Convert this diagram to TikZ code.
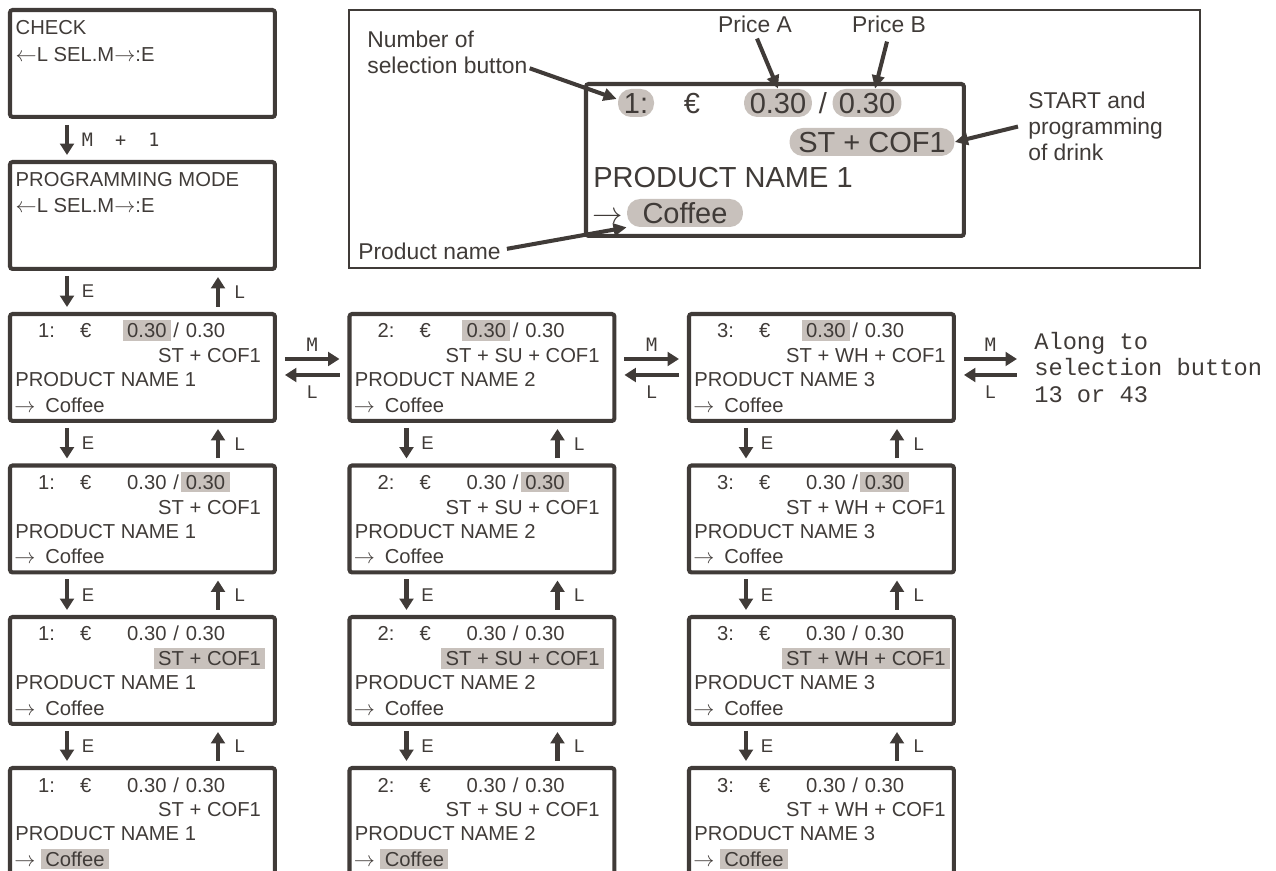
\documentclass[tikz,border=0pt]{standalone}
\usepackage{fontspec}
\setmainfont{Liberation Sans}
\newfontfamily\keyfont{DejaVu Sans Mono}
\newfontfamily\courierfont{Liberation Mono}
\usetikzlibrary{arrows.meta,calc,positioning}
\definecolor{LineDark}{HTML}{403B38}
\definecolor{HiGray}{HTML}{C8C1BC}

\begin{document}
\begin{tikzpicture}[
	x=0.02cm, y=-0.02cm,
	screen/.style={
		draw=LineDark,
		line width=2.3pt,
		rounded corners=1.5pt,
		anchor=north west,
		inner sep=0pt, outer sep=0pt,
		minimum width=5.3cm,
		minimum height=2.14cm
	},
	legendbox/.style={
		draw=LineDark,
		line width=1.2pt,
		anchor=north west,
		inner sep=0pt, outer sep=0pt,
		minimum width=17.02cm,
		minimum height=5.16cm
	},
	field/.style={
		anchor=base west,
		inner xsep=2.5pt, inner ysep=1.6pt,
		text height=8.4pt, text depth=0pt,
		text=LineDark,
		font=\fontsize{11.5pt}{13pt}\selectfont
	},
	hilite/.style={fill=HiGray},
	nohilite/.style={},
	% pills of the enlarged display
	pill/.style={
		fill=HiGray,
		rounded corners=7.5pt,
		inner sep=0pt,
		minimum height=0.56cm,
		text height=11.8pt, text depth=0pt,
		text=LineDark,
		font=\fontsize{16.5pt}{18pt}\selectfont
	},
	bigtxt/.style={
		inner sep=0pt,
		text height=11.8pt, text depth=0pt,
		text=LineDark,
		font=\fontsize{16.5pt}{18pt}\selectfont
	},
	lbltxt/.style={
		inner sep=0pt,
		align=left,
		text=LineDark,
		font=\fontsize{13pt}{14.7pt}\selectfont
	},
	% Key arrows
	keyarrow/.style={
		draw=LineDark,
		line width=2.8pt,
		-{Triangle[length=6.5pt,width=7.8pt]}
	},
	keylbl/.style={
		inner sep=0pt,
		text=LineDark,
		font=\fontsize{10.5pt}{12pt}\selectfont
	},
	mkey/.style={
		keylbl,
		font=\keyfont\fontsize{10.5pt}{12pt}\selectfont
	},
	callout/.style={
		draw=LineDark,
		line width=2.3pt,
		-{Triangle[length=7.5pt,width=7pt]}
	}
	]
	
	\clip (0,0) rectangle (1276,871);
	
	% ================= START SCREENS =================
	\node[screen] (check) at (10,10) {};
	\node[field] (checktxt) at ($(check.north west)+(1,25)$) {CHECK};
	\node[field] (checkkeys) at ($(check.north west)+(1,52)$) {$\leftarrow$L SEL.M$\rightarrow$:E};
	
	\node[screen] (prog) at (10,162) {};
	\node[field] (progtxt) at ($(prog.north west)+(1,25)$) {PROGRAMMING MODE};
	\node[field] (progkeys) at ($(prog.north west)+(1,51)$) {$\leftarrow$L SEL.M$\rightarrow$:E};
	
	% ================= LEGEND =================
	\node[legendbox] (legend) at (349,10) {};
	\node[screen, minimum width=7.56cm, minimum height=3.04cm] (demo) at (586,84) {};
	
	\node[pill, minimum width=0.72cm] (num) at (636,103) {1:};
	\node[bigtxt] (euro) at (692,103) {€};
	\node[pill, minimum width=1.36cm] (pa) at (778,103) {0.30};
	\node[bigtxt] (slash) at (823,103) {/};
	\node[pill, minimum width=1.38cm] (pb) at (867,103) {0.30};
	\node[pill, minimum width=3.3cm] (st) at (872,142) {ST + COF1};
	\node[bigtxt, anchor=west] (prod) at (593,177) {PRODUCT NAME 1};
	\node[bigtxt] (pointer) at (608,213) {$\rightarrow$};
	\node[pill, minimum width=2.32cm] (cof) at (685,213) {Coffee};
	
	\node[lbltxt, anchor=north west] (numlbl) at (367,31) {Number of\\selection button};
	\node[lbltxt, anchor=base] (pricea) at (755,33) {Price A};
	\node[lbltxt, anchor=base] (priceb) at (889,33) {Price B};
	\node[lbltxt, anchor=north west] (stlbl) at (1028,92) {START and\\programming\\of drink};
	\node[lbltxt, anchor=base west] (prodlbl) at (358,260) {Product name};
	
	\draw[callout] ($(numlbl.south east)+(2,-6)$) -- ($(num.west)+(-1,-4)$);
	\draw[callout] ($(pricea.south)+(2,5)$) -- (pa.north);
	\draw[callout] ($(priceb.south)+(-2,8)$) -- ($(pb.north)+(8,0)$);
	\draw[callout] ($(stlbl.west)+(-10,0)$) -- (st.east);
	\draw[callout] ($(prodlbl.east)+(6,-3)$) -- (cof.south west);
	
	% ================= SELECTION SCREENS =================
	\foreach \c/\x/\stx/\drink in {1/10/143.5/{ST + COF1}, 2/349.5/91.5/{ST + SU + COF1}, 3/689/92.5/{ST + WH + COF1}} {
		\foreach \r/\y/\ha/\hb/\hs/\hc in {1/314/hilite/nohilite/nohilite/nohilite, 2/465.5/nohilite/hilite/nohilite/nohilite, 3/617/nohilite/nohilite/hilite/nohilite, 4/768/nohilite/nohilite/nohilite/hilite} {
			\node[screen] (s-\c-\r) at (\x,\y) {};
			\node[field] (n-\c-\r) at ($(s-\c-\r.north west)+(23.5,24)$) {\c:};
			\node[field] (e-\c-\r) at ($(s-\c-\r.north west)+(65.5,24)$) {€};
			\node[field, \ha] (pa-\c-\r) at ($(s-\c-\r.north west)+(112.5,24)$) {0.30};
			\node[field, inner xsep=1pt, right=0pt of pa-\c-\r] (sl-\c-\r) {/};
			\node[field, \hb, right=0pt of sl-\c-\r] (pb-\c-\r) {0.30};
			\node[field, \hs] (d-\c-\r) at ($(s-\c-\r.north west)+(\stx,49)$) {\drink};
			\node[field] (p-\c-\r) at ($(s-\c-\r.north west)+(0.6,73)$) {PRODUCT NAME \c};
			\node[field, inner xsep=0pt] (ar-\c-\r) at ($(s-\c-\r.north west)+(4,98.5)$) {$\rightarrow$};
			\node[field, \hc] (c-\c-\r) at ($(s-\c-\r.north west)+(30.6,98.5)$) {Coffee};
		}
	}
	
	\node[anchor=west, inner sep=0pt, align=left, text=LineDark,
		font=\courierfont\fontsize{13.5pt}{15pt}\selectfont] (along) at ($(s-3-1.east)+(80,0)$)
		{Along to\\selection button\\13 or 43};
	
	% ================= KEY ARROWS =================
	\draw[keyarrow] ($(check.south west)+(57,8)$) -- ($(prog.north west)+(57,-7)$)
		node[mkey, midway, right=7pt] {M\ \ +\ \ 1};
	\draw[keyarrow] ($(prog.south west)+(57,7)$) -- ($(s-1-1.north west)+(57,-7)$)
		node[keylbl, midway, right=7pt] {E};
	\draw[keyarrow] ($(s-1-1.north west)+(208,-7)$) -- ($(prog.south west)+(208,8)$)
		node[keylbl, midway, right=8pt] {L};
	
	\foreach \c in {1,2,3} {
		\foreach \r in {1,2,3} {
			\pgfmathtruncatemacro{\n}{\r+1}
			\draw[keyarrow] ($(s-\c-\r.south west)+(57,7)$) -- ($(s-\c-\n.north west)+(57,-7)$)
				node[keylbl, midway, right=7pt] {E};
			\draw[keyarrow] ($(s-\c-\n.north west)+(208,-7)$) -- ($(s-\c-\r.south west)+(208,8)$)
				node[keylbl, midway, right=8pt] {L};
		}
	}
	
	\foreach \c/\n in {1/2, 2/3} {
		\draw[keyarrow] ($(s-\c-1.east)+(10,-8.5)$) -- ($(s-\n-1.west)+(-10,-8.5)$)
			node[mkey, midway, above=3pt] {M};
		\draw[keyarrow] ($(s-\n-1.west)+(-10,7.5)$) -- ($(s-\c-1.east)+(10,7.5)$)
			node[keylbl, midway, below=4.5pt] {L};
	}
	\draw[keyarrow] ($(s-3-1.east)+(10,-8.5)$) -- ($(along.west)+(-17,-8.5)$)
		node[mkey, midway, above=3pt] {M};
	\draw[keyarrow] ($(along.west)+(-17,7.5)$) -- ($(s-3-1.east)+(10,7.5)$)
		node[keylbl, midway, below=4.5pt] {L};
	
\end{tikzpicture}
\end{document}
